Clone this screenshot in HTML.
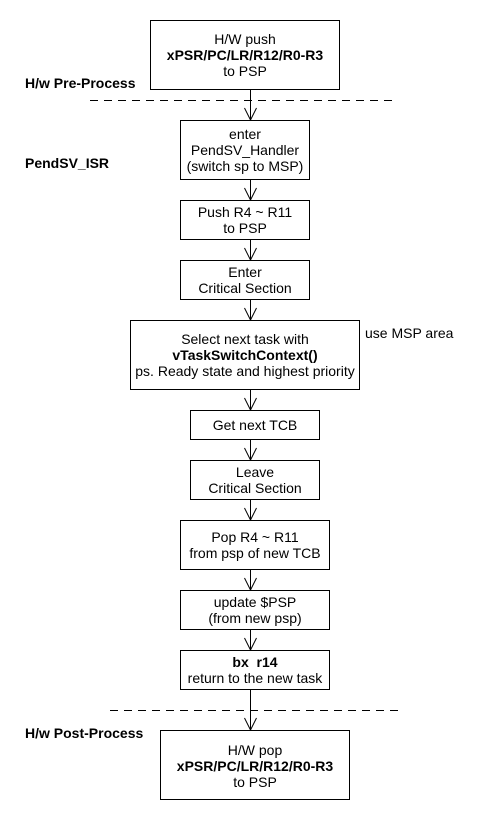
<!DOCTYPE html>
<html><head><style>
body{margin:0;background:#fff;}
svg text{font-family:"Liberation Sans",Arial,sans-serif;font-size:14px;fill:#000;}
.b{font-weight:bold;}
</style></head><body>
<svg width="480" height="820" xmlns="http://www.w3.org/2000/svg">
<g fill="#fff" stroke="#000" stroke-width="1">
<rect x="150.5" y="20.5" width="189" height="69"/>
<rect x="180.5" y="120.5" width="129" height="59"/>
<rect x="180.5" y="200.5" width="129" height="39"/>
<rect x="180.5" y="260.5" width="129" height="39"/>
<rect x="130.5" y="320.5" width="229" height="69"/>
<rect x="190.5" y="410.5" width="129" height="29"/>
<rect x="190.5" y="460.5" width="129" height="39"/>
<rect x="180.5" y="520.5" width="149" height="49"/>
<rect x="180.5" y="590.5" width="149" height="39"/>
<rect x="180.5" y="650.5" width="149" height="39"/>
<rect x="160.5" y="730.5" width="189" height="69"/>
</g>
<g stroke="#000" stroke-width="1" fill="none">
<line x1="90" y1="100.5" x2="392" y2="100.5" stroke-dasharray="8,6"/>
<line x1="110" y1="710.5" x2="402" y2="710.5" stroke-dasharray="8,6"/>
<line x1="250.5" y1="90" x2="250.5" y2="120"/><polyline points="244.5,108 250.5,120 256.5,108"/>
<line x1="250.5" y1="180" x2="250.5" y2="200"/><polyline points="244.5,188 250.5,200 256.5,188"/>
<line x1="250.5" y1="240" x2="250.5" y2="260"/><polyline points="244.5,248 250.5,260 256.5,248"/>
<line x1="250.5" y1="300" x2="250.5" y2="320"/><polyline points="244.5,308 250.5,320 256.5,308"/>
<line x1="250.5" y1="390" x2="250.5" y2="410"/><polyline points="244.5,398 250.5,410 256.5,398"/>
<line x1="250.5" y1="440" x2="250.5" y2="460"/><polyline points="244.5,448 250.5,460 256.5,448"/>
<line x1="250.5" y1="500" x2="250.5" y2="520"/><polyline points="244.5,508 250.5,520 256.5,508"/>
<line x1="250.5" y1="570" x2="250.5" y2="590"/><polyline points="244.5,578 250.5,590 256.5,578"/>
<line x1="250.5" y1="630" x2="250.5" y2="650"/><polyline points="244.5,638 250.5,650 256.5,638"/>
<line x1="250.5" y1="690" x2="250.5" y2="730"/><polyline points="244.5,718 250.5,730 256.5,718"/>
</g>
<g text-anchor="middle">
<text x="245" y="44">H/W push</text>
<text x="245" y="60" class="b">xPSR/PC/LR/R12/R0-R3</text>
<text x="245" y="76">to PSP</text>
<text x="245" y="139">enter</text>
<text x="245" y="155">PendSV_Handler</text>
<text x="245" y="171">(switch sp to MSP)</text>
<text x="245" y="217">Push R4 ~ R11</text>
<text x="245" y="233">to PSP</text>
<text x="245" y="277">Enter</text>
<text x="245" y="293">Critical Section</text>
<text x="245" y="344">Select next task with</text>
<text x="245" y="360" class="b">vTaskSwitchContext()</text>
<text x="245" y="376">ps. Ready state and highest priority</text>
<text x="255" y="430">Get next TCB</text>
<text x="255" y="477">Leave</text>
<text x="255" y="493">Critical Section</text>
<text x="255" y="542">Pop R4 ~ R11</text>
<text x="255" y="558">from psp of new TCB</text>
<text x="255" y="607">update $PSP</text>
<text x="255" y="623">(from new psp)</text>
<text x="255" y="667" class="b">bx&#160; r14</text>
<text x="255" y="683">return to the new task</text>
<text x="255" y="755">H/W pop</text>
<text x="255" y="771" class="b">xPSR/PC/LR/R12/R0-R3</text>
<text x="255" y="787">to PSP</text>
</g>
<text x="365" y="338">use MSP area</text>
<text x="25" y="88" class="b">H/w Pre-Process</text>
<text x="25" y="168" class="b">PendSV_ISR</text>
<text x="25" y="738" class="b">H/w Post-Process</text>
</svg>
</body></html>
